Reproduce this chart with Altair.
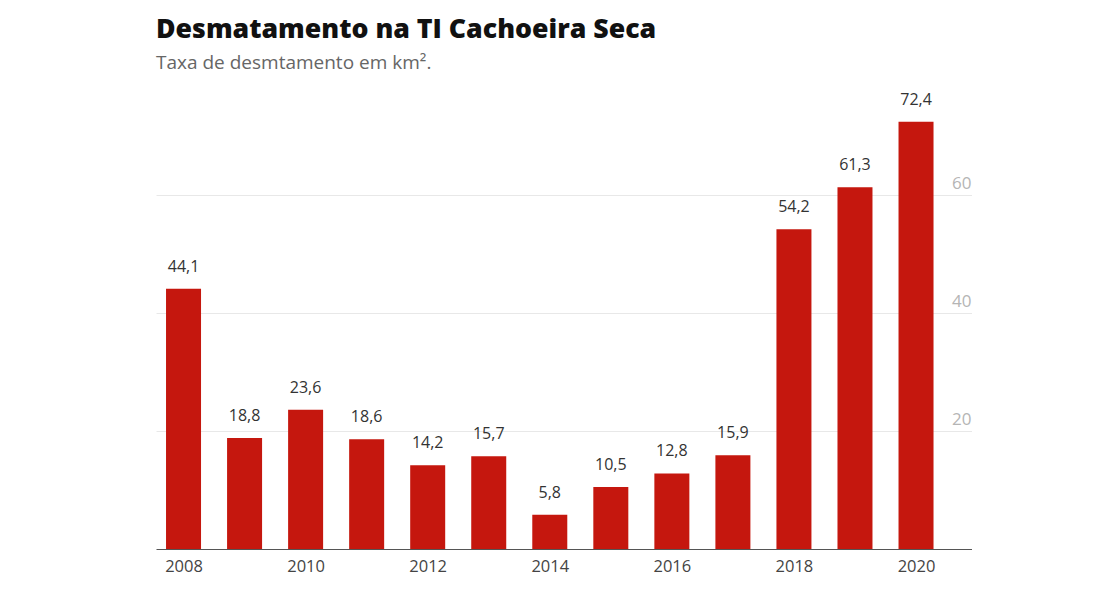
import altair as alt
import pandas as pd

years = [2008, 2009, 2010, 2011, 2012, 2013, 2014, 2015, 2016, 2017, 2018, 2019, 2020]
values = [44.1, 18.8, 23.6, 18.6, 14.2, 15.7, 5.8, 10.5, 12.8, 15.9, 54.2, 61.3, 72.4]
x_ticks = [2008, 2010, 2012, 2014, 2016, 2018, 2020]
y_ticks = [20, 40, 60]

df = pd.DataFrame({"ano": years, "valor": values})

FONT = "Open Sans"

x = alt.X(
    "ano:Q",
    scale=alt.Scale(domain=[2007.549, 2020.917], nice=False, zero=False, padding=0),
    axis=alt.Axis(
        values=x_ticks, format="d", title=None, grid=False, ticks=False,
        domainColor="#555555", domainWidth=1.2, labelFontSize=16.5,
        labelColor="#444444", labelFont=FONT, labelPadding=9,
    ),
)
y = alt.Y(
    "valor:Q",
    scale=alt.Scale(domain=[0, 80], nice=False, padding=0),
    axis=alt.Axis(
        orient="right", values=y_ticks, title=None, domain=False, ticks=False,
        gridColor="#e8e8e8", gridWidth=1, labelAlign="right", labelBaseline="bottom",
        labelPadding=-1, labelOffset=-3, labelFontSize=17, labelColor="#b5b5b5",
        labelFont=FONT,
    ),
)

bars = alt.Chart(df).mark_bar(size=35, color="#c5170e").encode(x=x, y=y)

labels = alt.Chart(df).transform_calculate(
    rot="replace(format(datum.valor, '.1f'), '.', ',')"
).mark_text(dy=-14, baseline="bottom", fontSize=16, color="#333333", font=FONT).encode(
    x="ano:Q", y="valor:Q", text="rot:N"
)

chart = (
    alt.layer(bars, labels)
    .properties(
        width=816,
        height=472,
        autosize=alt.AutoSizeParams(type="none"),
        padding={"left": 148, "top": 69, "right": 0, "bottom": 32},
        title=alt.TitleParams(
            text="Desmatamento na TI Cachoeira Seca",
            subtitle="Taxa de desmtamento em km².",
            anchor="start",
            frame="group",
            offset=4,
            font=FONT,
            fontSize=26.7,
            fontWeight=800,
            color="#111111",
            subtitleFont=FONT,
            subtitleFontSize=19,
            subtitleColor="#666666",
            subtitlePadding=10,
        ),
    )
    .configure_view(stroke=None)
)

chart.save("out.html", embed_options={"renderer": "svg", "actions": False})
